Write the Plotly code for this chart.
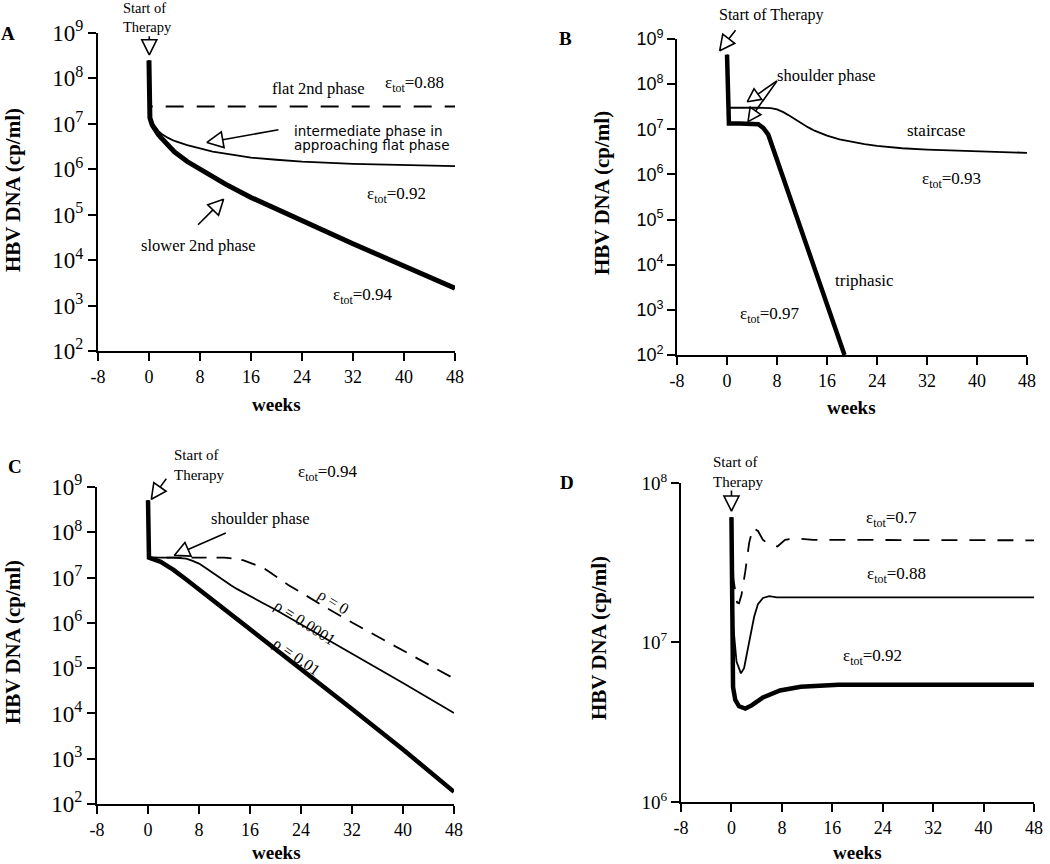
import plotly.graph_objects as go

SERIF = "Liberation Serif, Times New Roman, serif"
SANS = "Liberation Sans, Arial, sans-serif"
WIDE_SANS = "DejaVu Sans, Verdana, sans-serif"

week_ticks = [-8, 0, 8, 16, 24, 32, 40, 48]
week_labels = ["-8", "0", "8", "16", "24", "32", "40", "48"]
decades_abc = [2, 3, 4, 5, 6, 7, 8, 9]
decades_d = [6, 7, 8]

# panel A
a_weeks_088 = [0, 0.15, 48]
a_dna_088 = [2.5e8, 2.4e7, 2.4e7]
a_weeks_092 = [0, 0.15, 0.5, 1, 1.5, 2, 3, 4, 6, 8, 10, 12, 16, 20, 24, 32, 40, 48]
a_dna_092 = [2.5e8, 1.35e7, 1.05e7, 8.3e6, 6.9e6, 6.0e6, 4.9e6, 4.2e6, 3.4e6, 2.9e6,
             2.45e6, 2.2e6, 1.8e6, 1.62e6, 1.48e6, 1.32e6, 1.23e6, 1.17e6]
a_weeks_094 = [0, 0.15, 0.5, 1, 1.5, 2, 3, 4, 6, 8, 10, 12, 16, 20, 24, 32, 40, 48]
a_dna_094 = [2.5e8, 1.35e7, 9.5e6, 7.1e6, 5.75e6, 4.8e6, 3.3e6, 2.4e6, 1.48e6, 1.0e6,
             6.8e5, 4.7e5, 2.4e5, 1.32e5, 7.4e4, 2.3e4, 7.4e3, 2.4e3]

# panel B
b_weeks_093 = [0, 0.3, 5, 6, 7, 8, 9, 10, 11, 12, 13, 14, 15, 16, 18, 20, 22, 24, 28, 32, 40, 48]
b_dna_093 = [4.5e8, 3.0e7, 3.0e7, 3.0e7, 2.95e7, 2.75e7, 2.4e7, 2.0e7, 1.62e7, 1.32e7,
             1.1e7, 9.3e6, 8.1e6, 7.2e6, 6.0e6, 5.25e6, 4.7e6, 4.3e6, 3.8e6, 3.55e6,
             3.24e6, 3.0e6]
b_weeks_097 = [0, 0.3, 2, 4, 5, 5.8, 6.6, 18.8]
b_dna_097 = [4.5e8, 1.35e7, 1.35e7, 1.35e7, 1.29e7, 1.07e7, 7.6e6, 1.0e2]

# panel C (eps_tot = 0.94)
c_weeks_rho0 = [0, 0.15, 12, 13, 14, 15, 16, 17, 18, 19, 20, 21, 22, 24, 28, 32, 40, 48]
c_dna_rho0 = [5.1e8, 2.75e7, 2.75e7, 2.69e7, 2.57e7, 2.4e7, 2.14e7, 1.86e7, 1.66e7,
              1.35e7, 1.07e7, 8.5e6, 6.9e6, 4.7e6, 2.14e6, 1.02e6, 2.45e5, 5.9e4]
c_weeks_rho00001 = [0, 0.15, 4, 5, 6, 7, 8, 9, 10, 11, 12, 13, 14, 15, 16, 18, 20, 24, 32, 40, 48]
c_dna_rho00001 = [5.1e8, 2.75e7, 2.75e7, 2.72e7, 2.63e7, 2.34e7, 2.04e7, 1.66e7, 1.32e7,
                  1.05e7, 8.3e6, 6.8e6, 5.56e6, 4.62e6, 3.9e6, 2.75e6, 1.95e6, 9.3e5,
                  2.14e5, 4.7e4, 1.02e4]
c_weeks_rho001 = [0, 0.15, 1, 2, 3, 4, 6, 8, 12, 16, 24, 32, 40, 48]
c_dna_rho001 = [5.1e8, 2.75e7, 2.5e7, 2.24e7, 1.82e7, 1.48e7, 9.1e6, 5.5e6, 2.0e6, 7.2e5,
                9.5e4, 1.26e4, 1.6e3, 1.86e2]

# panel D
d_weeks_070 = [0, 0.3, 0.9, 1.2, 1.6, 2.2, 2.8, 3.4, 4.2, 5.0, 6.0, 7.3, 8.5, 10, 13, 48]
d_dna_070 = [6.1e7, 2.5e7, 1.78e7, 1.76e7, 2.0e7, 2.8e7, 4.2e7, 5.25e7, 5.0e7, 4.4e7,
             4.1e7, 4.0e7, 4.4e7, 4.5e7, 4.4e7, 4.37e7]
d_weeks_088 = [0, 0.3, 0.8, 1.5, 2.0, 2.5, 3.0, 3.6, 4.2, 5.0, 6.0, 7.2, 48]
d_dna_088 = [6.1e7, 1.26e7, 7.6e6, 6.4e6, 6.9e6, 8.5e6, 1.1e7, 1.45e7, 1.74e7, 1.9e7,
             1.95e7, 1.92e7, 1.92e7]
d_weeks_092 = [0, 0.25, 0.6, 1.2, 2.2, 3.2, 5, 7.7, 11, 17, 48]
d_dna_092 = [6.1e7, 5.25e6, 4.37e6, 3.98e6, 3.85e6, 4.03e6, 4.52e6, 5.0e6, 5.27e6, 5.43e6, 5.43e6]

fig = go.Figure()


def add_line(n, x, y, width, dash="solid"):
    fig.add_trace(go.Scatter(
        x=x, y=y, mode="lines", xaxis="x%s" % n, yaxis="y%s" % n,
        line=dict(color="black", width=width, dash=dash), hoverinfo="skip"))


add_line("", a_weeks_088, a_dna_088, 2, "18px,13px")
add_line("", a_weeks_092, a_dna_092, 1.8)
add_line("", a_weeks_094, a_dna_094, 5)

add_line("2", b_weeks_093, b_dna_093, 1.8)
add_line("2", b_weeks_097, b_dna_097, 4.5)

add_line("3", c_weeks_rho0, c_dna_rho0, 1.8, "15px,10px")
add_line("3", c_weeks_rho00001, c_dna_rho00001, 1.8)
add_line("3", c_weeks_rho001, c_dna_rho001, 4.5)

add_line("4", d_weeks_070, d_dna_070, 1.8, "16px,12px")
add_line("4", d_weeks_088, d_dna_088, 1.8)
add_line("4", d_weeks_092, d_dna_092, 4.5)

# open arrow heads: (panel, tip week, tip log10, tail dx px, tail dy px, direction deg, size)
arrows = [
    ("", 0.05, 8.52, 0, -20, 180, 15),
    ("", 9.09, 6.59, 73, -13, 260, 16),
    ("", 11.7, 5.34, -27, 27, 44, 15),
    ("2", -1.17, 8.74, 17, -22, 217, 15),
    ("2", 3.25, 7.61, 31, -22, 234, 13),
    ("2", 3.36, 7.17, 30, -42, 215, 13),
    ("3", 0.52, 8.73, 16, -22, 215, 15),
    ("3", 4.12, 7.49, 53, -23, 246, 15),
    ("4", 0.0, 7.824, 0, -22, 180, 15),
]

annotations = []
for n, wx, ly, dx, dy, ang, sz in arrows:
    fig.add_trace(go.Scatter(
        x=[wx], y=[10 ** ly], mode="markers", xaxis="x%s" % n, yaxis="y%s" % n,
        marker=dict(symbol="arrow-up-open", size=sz, angle=ang, color="black",
                    line=dict(color="black", width=1.6)),
        cliponaxis=False, hoverinfo="skip"))
    annotations.append(dict(
        x=wx, y=ly, xref="x%s" % n, yref="y%s" % n, text="", showarrow=True,
        arrowhead=0, arrowwidth=1.6, arrowcolor="black", ax=dx, ay=dy, standoff=sz))


def eps(v):
    return "ε<sub>tot</sub>=%s" % v


# text labels in data coordinates: (panel, week, log10, text, size, family, angle, xanchor)
labels = [
    ("", 26.6, 7.77, "flat 2nd phase", 16.5, SERIF, 0, "center"),
    ("", 41.7, 7.88, eps("0.88"), 17, SERIF, 0, "center"),
    ("", 22.4, 6.835, "intermediate phase in", 13.5, WIDE_SANS, 0, "left"),
    ("", 22.4, 6.54, "approaching flat phase", 13.5, WIDE_SANS, 0, "left"),
    ("", 38.9, 5.44, eps("0.92"), 17, SERIF, 0, "center"),
    ("", 7.8, 4.33, "slower 2nd phase", 16.5, SERIF, 0, "center"),
    ("", 33.5, 3.20, eps("0.94"), 17, SERIF, 0, "center"),
    ("2", 15.9, 8.20, "shoulder phase", 16.5, SERIF, 0, "center"),
    ("2", 33.5, 6.98, "staircase", 17, SERIF, 0, "center"),
    ("2", 35.9, 5.88, eps("0.93"), 17, SERIF, 0, "center"),
    ("2", 22.0, 3.66, "triphasic", 17, SERIF, 0, "center"),
    ("2", 6.8, 2.88, eps("0.97"), 17, SERIF, 0, "center"),
    ("3", 17.6, 8.30, "shoulder phase", 16.5, SERIF, 0, "center"),
    ("3", 29.1, 6.47, "ρ = 0", 16, SERIF, 32, "center"),
    ("3", 24.6, 5.99, "ρ = 0.0001", 16, SERIF, 33, "center"),
    ("3", 23.3, 5.25, "ρ = 0.01", 16, SERIF, 35, "center"),
    ("4", 25.4, 7.776, eps("0.7"), 17, SERIF, 0, "center"),
    ("4", 26.2, 7.42, eps("0.88"), 17, SERIF, 0, "center"),
    ("4", 22.3, 6.909, eps("0.92"), 17, SERIF, 0, "center"),
]
for n, wx, ly, txt, sz, fam, ang, xa in labels:
    annotations.append(dict(
        x=wx, y=ly, xref="x%s" % n, yref="y%s" % n, text=txt, showarrow=False,
        textangle=ang, xanchor=xa, yanchor="middle", align="left",
        font=dict(family=fam, size=sz, color="black")))

# text placed in paper coordinates (outside the axes ranges)
paper_labels = [
    (0.140, 0.9800, "Start of<br>Therapy", 14.5, "normal", "center"),
    (0.7343, 0.9826, "Start of Therapy", 16, "normal", "center"),
    (0.164, 0.4618, "Start of<br>Therapy", 15, "normal", "left"),
    (0.3124, 0.4525, eps("0.94"), 17, "normal", "center"),
    (0.7029, 0.4537, "Start of<br>Therapy", 15, "normal", "center"),
    (0.0076, 0.9618, "A", 19, "bold", "center"),
    (0.5381, 0.956, "B", 19, "bold", "center"),
    (0.0143, 0.4595, "C", 19, "bold", "center"),
    (0.540, 0.4421, "D", 19, "bold", "center"),
]
for px, py, txt, sz, wt, xa in paper_labels:
    annotations.append(dict(
        x=px, y=py, xref="paper", yref="paper", text=txt, showarrow=False,
        xanchor=xa, yanchor="middle", align="left",
        font=dict(family=SERIF, size=sz, color="black", weight=wt)))

# axis titles
for px, py in [(0.0124, 0.780), (0.5733, 0.7766), (0.0124, 0.2569), (0.5705, 0.2616)]:
    annotations.append(dict(
        x=px, y=py, xref="paper", yref="paper", text="HBV DNA (cp/ml)", showarrow=False,
        textangle=-90, xanchor="center", yanchor="middle",
        font=dict(family=SERIF, size=21, color="black", weight="bold")))
for px, py in [(0.2633, 0.5313), (0.8114, 0.5278), (0.2629, 0.0128), (0.8167, 0.0132)]:
    annotations.append(dict(
        x=px, y=py, xref="paper", yref="paper", text="weeks", showarrow=False,
        xanchor="center", yanchor="middle",
        font=dict(family=SERIF, size=19, color="black", weight="bold")))


def x_axis(domain, anchor):
    return dict(domain=domain, anchor=anchor, range=[-8, 48], tickvals=week_ticks,
                ticktext=week_labels,
                ticks="outside", ticklen=8, tickwidth=2, tickcolor="black",
                showline=True, linewidth=2, linecolor="black", showgrid=False,
                zeroline=False, automargin=False,
                tickfont=dict(family=SERIF, size=18, color="black"))


def y_axis(domain, anchor, decades, size, family):
    return dict(domain=domain, anchor=anchor, type="log",
                range=[decades[0], decades[-1]],
                tickvals=[10 ** k for k in decades],
                ticktext=["10<sup>%d</sup>" % k for k in decades],
                ticks="outside", ticklen=8, tickwidth=2, tickcolor="black",
                showline=True, linewidth=2, linecolor="black", showgrid=False,
                zeroline=False, automargin=False,
                tickfont=dict(family=family, size=size, color="black"))


fig.update_layout(
    width=1050, height=864,
    margin=dict(l=0, r=0, t=0, b=0),
    paper_bgcolor="white", plot_bgcolor="white",
    showlegend=False,
    xaxis=x_axis([0.0933, 0.4333], "y"),
    yaxis=y_axis([0.5938, 0.9618], "x", decades_abc, 23, SERIF),
    xaxis2=x_axis([0.6448, 0.9781], "y2"),
    yaxis2=y_axis([0.5891, 0.9549], "x2", decades_abc, 18, SANS),
    xaxis3=x_axis([0.0924, 0.4324], "y3"),
    yaxis3=y_axis([0.0694, 0.4363], "x3", decades_abc, 23, SERIF),
    xaxis4=x_axis([0.6486, 0.9848], "y4"),
    yaxis4=y_axis([0.0718, 0.4410], "x4", decades_d, 19, SERIF),
    annotations=annotations,
)

fig.write_html("out.html", config={"displayModeBar": False},
               post_script="document.body.style.margin='0';")
